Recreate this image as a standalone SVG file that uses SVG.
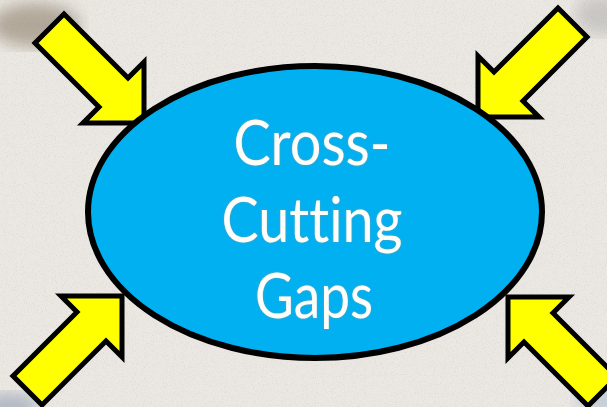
<svg xmlns="http://www.w3.org/2000/svg" width="607" height="407" viewBox="0 0 607 407">
  <defs>
    <filter id="sand" x="0" y="0" width="100%" height="100%">
      <feTurbulence type="fractalNoise" baseFrequency="0.9" numOctaves="3" seed="4" result="n"/>
      <feColorMatrix in="n" type="matrix" values="0 0 0 0 0.5  0 0 0 0 0.48  0 0 0 0 0.45  0 0 0 -0.9 0.45" result="dots"/>
      <feComposite in="dots" in2="SourceGraphic" operator="over"/>
    </filter>
    <filter id="blur8"><feGaussianBlur stdDeviation="8"/></filter>
    <filter id="txt" x="-10%" y="-10%" width="120%" height="120%">
      <feGaussianBlur in="SourceAlpha" stdDeviation="1"/>
      <feOffset dx="0" dy="0" result="b"/>
      <feFlood flood-color="#9a9a9a" flood-opacity="0.7"/>
      <feComposite in2="b" operator="in" result="s"/>
      <feMerge><feMergeNode in="s"/><feMergeNode in="SourceGraphic"/></feMerge>
    </filter>
    <path id="arrow" d="M0,0 L0,-61 L-16,-45 L-80,-109 L-109,-80 L-45,-16 L-61,0 Z"/>
    <style>
      .arr { fill: #ffff00; stroke: #000; stroke-width: 5; stroke-linejoin: miter; }
      .lbl { font-family: "Lato", "Open Sans", "Liberation Sans", sans-serif; font-size: 61px; fill: #fdfdf9; text-anchor: middle; font-variant-ligatures: none; font-feature-settings: "liga" 0; }
    </style>
  </defs>

  <g id="background">
    <rect x="0" y="0" width="607" height="407" fill="#ebe8e3" filter="url(#sand)"/>
    <ellipse cx="35" cy="25" rx="45" ry="22" fill="#7a6a52" opacity="0.5" filter="url(#blur8)"/>
    <ellipse cx="10" cy="407" rx="30" ry="14" fill="#8a9aae" opacity="0.6" filter="url(#blur8)"/>
    <ellipse cx="600" cy="400" rx="25" ry="14" fill="#9fb4cc" opacity="0.5" filter="url(#blur8)"/>
    <ellipse cx="600" cy="15" rx="25" ry="20" fill="#8c8c8c" opacity="0.35" filter="url(#blur8)"/>
  </g>

  <g id="connectors">
    <use href="#arrow" class="arr" transform="translate(144,123)"/>
    <use href="#arrow" class="arr" transform="translate(478,117) scale(-1,1)"/>
    <use href="#arrow" class="arr" transform="translate(122,296) scale(1,-1)"/>
    <use href="#arrow" class="arr" transform="translate(508,297) scale(-1,-1)"/>
  </g>

  <g id="node-gaps">
    <ellipse cx="315" cy="212" rx="227" ry="146" fill="#00b0f0" stroke="#000" stroke-width="6"/>
    <g filter="url(#txt)">
      <text class="lbl" x="312" y="165" textLength="157" lengthAdjust="spacingAndGlyphs">Cross-</text>
      <text class="lbl" x="312" y="242" textLength="181" lengthAdjust="spacingAndGlyphs">Cutting</text>
      <text class="lbl" x="314" y="318" textLength="118" lengthAdjust="spacingAndGlyphs">Gaps</text>
    </g>
  </g>
</svg>
